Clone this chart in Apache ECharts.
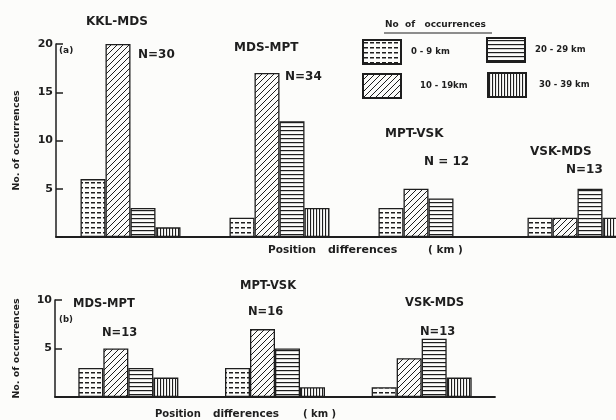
<!DOCTYPE html>
<html><head><meta charset="utf-8">
<script src="https://cdn.jsdelivr.net/npm/echarts@6/dist/echarts.min.js"></script>
<style>html,body{margin:0;padding:0;background:#fcfcfa}#c{width:616px;height:420px}</style>
</head><body><div id="c"></div>
<script>
// ---- data ----
const seriesNames = ['0 - 9 km', '10 - 19 km', '20 - 29 km', '30 - 39 km'];
const legendTexts = ['0 - 9 km', '10 - 19km', '20 - 29 km', '30 - 39 km'];
const catsA = ['KKL-MDS', 'MDS-MPT', 'MPT-VSK', 'VSK-MDS'];
const nA = ['N=30', 'N=34', 'N = 12', 'N=13'];
const a0 = [6, 2, 3, 2];
const a1 = [20, 17, 5, 2];
const a2 = [3, 12, 4, 5];
const a3 = [1, 3, '-', 2];
const catsB = ['MDS-MPT', 'MPT-VSK', 'VSK-MDS'];
const nB = ['N=13', 'N=16', 'N=13'];
const b0 = [3, 3, 1];
const b1 = [5, 7, 4];
const b2 = [3, 5, 6];
const b3 = [2, 1, 2];
const ticksA = [0, 5, 10, 15, 20];
const ticksB = [0, 5, 10];

// ---- patterns ----
const INK = '#1e1e1e';
function makePattern(kind) {
  const c = document.createElement('canvas');
  const ctx = c.getContext('2d');
  let w = 6, h = 6;
  if (kind === 'dash') { w = 6; h = 5; }
  if (kind === 'horiz') { w = 4; h = 4; }
  if (kind === 'vert') { w = 3; h = 4; }
  c.width = w; c.height = h;
  ctx.fillStyle = '#fcfcfa'; ctx.fillRect(0, 0, w, h);
  ctx.fillStyle = INK; ctx.strokeStyle = INK;
  if (kind === 'dash') { ctx.fillRect(1, 2, 4, 1.5); }
  if (kind === 'horiz') { ctx.fillRect(0, 2, w, 1.2); }
  if (kind === 'vert') { ctx.fillRect(1, 0, 1.1, h); }
  if (kind === 'diag') {
    ctx.lineWidth = 1;
    ctx.beginPath();
    ctx.moveTo(0, h); ctx.lineTo(w, 0);
    ctx.moveTo(-1, 1); ctx.lineTo(1, -1);
    ctx.moveTo(w - 1, h + 1); ctx.lineTo(w + 1, h - 1);
    ctx.stroke();
  }
  return { image: c, repeat: 'repeat' };
}
const fills = [makePattern('dash'), makePattern('diag'), makePattern('horiz'), makePattern('vert')];

const dataA = [a0, a1, a2, a3];
const dataB = [b0, b1, b2, b3];
const font = 'DejaVu Sans';

const series = [];
[[dataA, 0], [dataB, 1]].forEach(([dataSet, idx]) => {
  seriesNames.forEach((name, i) => {
    series.push({
      name, type: 'bar', xAxisIndex: idx, yAxisIndex: idx, data: dataSet[i],
      barWidth: 25, barGap: '0%',
      itemStyle: { color: fills[i], borderColor: INK, borderWidth: 1.3 },
      emphasis: { disabled: true }, animation: false
    });
  });
});

const legendPos = [[362, 39], [362, 73], [486, 37], [487, 72]];
const legendPad = [5, 14, 5, 8];
const legend = seriesNames.map((name, i) => ({
  data: [name], left: legendPos[i][0], top: legendPos[i][1], padding: 0,
  icon: 'rect', itemWidth: 38, itemHeight: 24, selectedMode: false,
  formatter: () => legendTexts[i],
  textStyle: { fontFamily: font, fontSize: 8.5, fontWeight: 'bold', color: INK, padding: [0, 0, 0, legendPad[i]] }
}));

const txt = (x, y, t, size, extra) => Object.assign({
  type: 'text', left: x, top: y,
  style: { text: t, fontFamily: font, fontSize: size || 11, fontWeight: 'bold', fill: INK }
}, extra || {});

const chart = echarts.init(document.getElementById('c'));
const yAxisCommon = {
  type: 'value', splitLine: { show: false },
  axisLine: { show: true, lineStyle: { color: INK, width: 1.5 } },
  axisTick: { show: true, inside: true, length: 7, lineStyle: { color: INK, width: 1.5 } },
  axisLabel: { fontFamily: font, fontSize: 11, fontWeight: 'bold', color: INK, margin: 3,
    formatter: v => (v === 0 ? '' : v) },
  name: 'No. of occurrences', nameLocation: 'middle', nameRotate: 90,
  nameTextStyle: { fontFamily: font, fontSize: 9.5, fontWeight: 'bold', color: INK }
};
const xAxisCommon = {
  type: 'category',
  axisLine: { show: true, lineStyle: { color: INK, width: 1.8 } },
  axisTick: { show: false }, axisLabel: { show: false }
};
chart.setOption({
  backgroundColor: '#fcfcfa',
  animation: false,
  legend,
  grid: [
    { left: 56, width: 596, top: 44, bottom: 183, outerBoundsMode: 'none', containLabel: false },
    { left: 55, width: 440, top: 300, bottom: 23, outerBoundsMode: 'none', containLabel: false }
  ],
  xAxis: [
    Object.assign({ gridIndex: 0, data: catsA }, xAxisCommon),
    Object.assign({ gridIndex: 1, data: catsB }, xAxisCommon)
  ],
  yAxis: [
    Object.assign({}, yAxisCommon, { gridIndex: 0, min: ticksA[0], max: ticksA[ticksA.length - 1], interval: 5, nameGap: 34 }),
    Object.assign({}, yAxisCommon, { gridIndex: 1, min: ticksB[0], max: ticksB[ticksB.length - 1], interval: 5, nameGap: 33 })
  ],
  series,
  graphic: [
    txt(86, 16, catsA[0], 12),
    txt(138, 49, nA[0], 12),
    txt(59, 46, '(a)', 9),
    txt(234, 42, catsA[1], 12),
    txt(285, 71, nA[1], 12),
    txt(385, 128, catsA[2], 12),
    txt(424, 156, nA[2], 12),
    txt(530, 146, catsA[3], 12),
    txt(566, 164, nA[3], 12),
    txt(268, 245, 'Position', 10.5),
    txt(328, 245, 'differences', 11),
    txt(428, 245, '( km )', 10.5),
    txt(385, 20, 'No  of   occurrences', 9),
    { type: 'line', shape: { x1: 384, y1: 33, x2: 492, y2: 33 }, style: { stroke: INK, lineWidth: 1 } },
    txt(240, 280, catsB[1], 11.5),
    txt(73, 298, catsB[0], 11.5),
    txt(59, 315, '(b)', 8.5),
    txt(102, 327, nB[0], 11.5),
    txt(248, 306, nB[1], 11.5),
    txt(405, 297, catsB[2], 11.5),
    txt(420, 326, nB[2], 11.5),
    txt(155, 409, 'Position', 10),
    txt(213, 409, 'differences', 10.5),
    txt(303, 409, '( km )', 10)
  ]
});
</script></body></html>
